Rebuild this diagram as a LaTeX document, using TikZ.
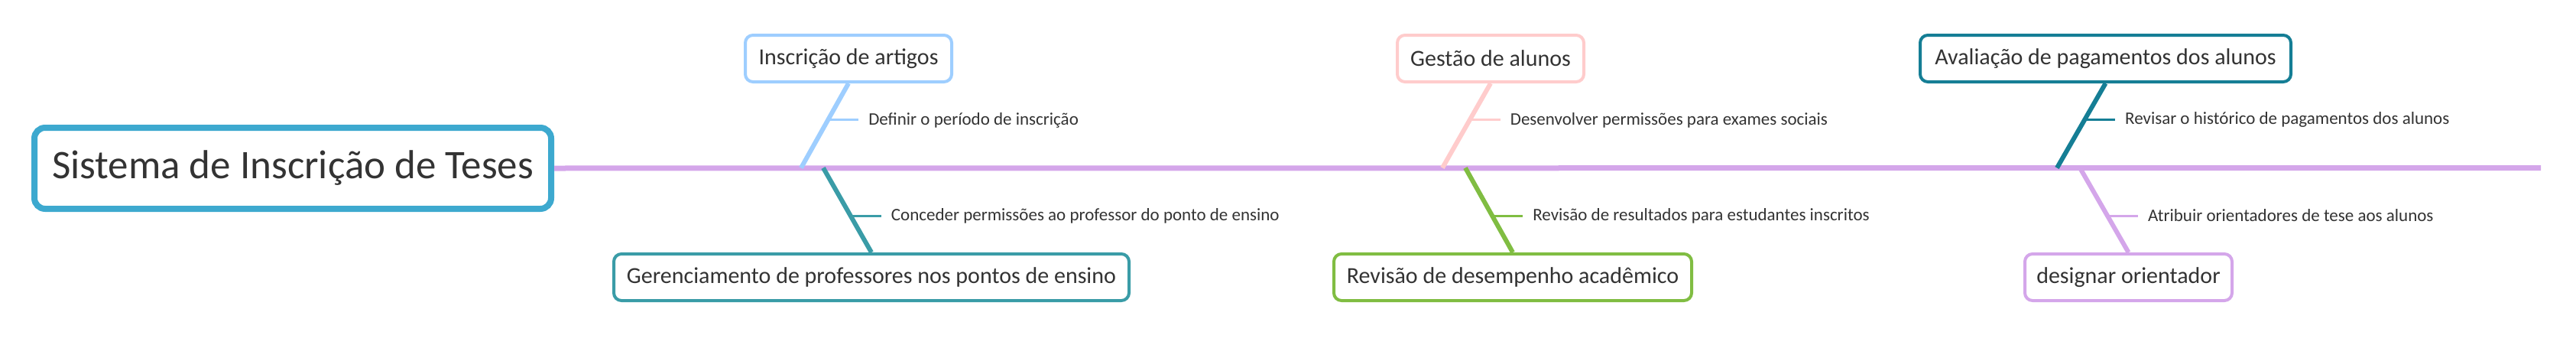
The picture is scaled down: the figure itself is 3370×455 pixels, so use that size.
\documentclass[tikz,border=0pt]{standalone}
\usepackage{fontspec}
\setmainfont{Carlito}
\usepackage{tikz}
\usepackage{xcolor}
\definecolor{rootblue}{HTML}{3DA9CF}
\definecolor{spinelilac}{HTML}{D4A6EA}
\definecolor{skyblue}{HTML}{9ECEFF}
\definecolor{tealblue}{HTML}{3A9CA7}
\definecolor{rosepink}{HTML}{FFCCCC}
\definecolor{leafgreen}{HTML}{80BD42}
\definecolor{petrol}{HTML}{157E95}
\definecolor{textgray}{HTML}{333333}
\tikzset{
    root-box/.style = {draw=rootblue, fill=white, line width=8pt, rectangle, rounded corners=14pt, minimum width=676pt, minimum height=106pt, text=textgray, font=\fontsize{53}{58}\selectfont},
    topic-box/.style = {draw=#1, fill=white, line width=4pt, rectangle, rounded corners=10pt, minimum height=61pt, inner xsep=6pt, text=textgray, font=\fontsize{30}{34}\selectfont},
    spine-line/.style = {draw=spinelilac, line width=7pt},
    branch-line/.style = {draw=#1, line width=6pt},
    leaf-line/.style = {draw=#1, line width=3pt},
    leaf-text/.style = {text=textgray, inner xsep=13pt, anchor=west, font=\fontsize{23}{26}\selectfont},
}

\begin{document}
\begin{tikzpicture}[x=1pt, y=-1pt]
\useasboundingbox (0,0) rectangle (3370,455);

% main topic and spine
\node[root-box] (root) at (383,220) {Sistema de Inscrição de Teses};
\coordinate (spine-end) at (3324,219.5);
\draw[spine-line] (root.east) -- (spine-end);

% points where the topics meet the spine
\coordinate (j-artigos) at (1048,219.5);
\coordinate (j-professores) at (1077,219.5);
\coordinate (j-gestao) at (1887,219.5);
\coordinate (j-desempenho) at (1917,219.5);
\coordinate (j-pagamentos) at (2691,219.5);
\coordinate (j-orientador) at (2721,219.5);

% topics above the spine
\node[topic-box=skyblue, minimum width=270pt] (artigos) at (1110,76.5) {Inscrição de artigos};
\node[topic-box=rosepink, minimum width=244pt] (gestao) at (1950,76.5) {Gestão de alunos};
\node[topic-box=petrol, minimum width=485pt] (pagamentos) at (2754.5,76.5) {Avaliação de pagamentos dos alunos};

% topics below the spine
\node[topic-box=tealblue, minimum width=674pt] (professores) at (1140,362.5) {Gerenciamento de professores nos pontos de ensino};
\node[topic-box=leafgreen, minimum width=468pt] (desempenho) at (1979,362.5) {Revisão de desempenho acadêmico};
\node[topic-box=spinelilac, minimum width=271pt] (orientador) at (2784.5,362.5) {designar orientador};

% branch lines
\draw[branch-line=skyblue] (artigos.south) -- coordinate[pos=0.434] (k-artigos) (j-artigos);
\draw[branch-line=rosepink] (gestao.south) -- coordinate[pos=0.434] (k-gestao) (j-gestao);
\draw[branch-line=petrol] (pagamentos.south) -- coordinate[pos=0.434] (k-pagamentos) (j-pagamentos);
\draw[branch-line=tealblue] (j-professores) -- coordinate[pos=0.566] (k-professores) (professores.north);
\draw[branch-line=leafgreen] (j-desempenho) -- coordinate[pos=0.566] (k-desempenho) (desempenho.north);
\draw[branch-line=spinelilac] (j-orientador) -- coordinate[pos=0.566] (k-orientador) (orientador.north);

% leaves
\node[leaf-text] (l-artigos) at ([xshift=40pt]k-artigos) {Definir o período de inscrição};
\draw[leaf-line=skyblue] (k-artigos) -- (l-artigos.west);
\node[leaf-text] (l-gestao) at ([xshift=40pt]k-gestao) {Desenvolver permissões para exames sociais};
\draw[leaf-line=rosepink] (k-gestao) -- (l-gestao.west);
\node[leaf-text] (l-pagamentos) at ([xshift=40pt]k-pagamentos) {Revisar o histórico de pagamentos dos alunos};
\draw[leaf-line=petrol] (k-pagamentos) -- (l-pagamentos.west);
\node[leaf-text] (l-professores) at ([xshift=40pt]k-professores) {Conceder permissões ao professor do ponto de ensino};
\draw[leaf-line=tealblue] (k-professores) -- (l-professores.west);
\node[leaf-text] (l-desempenho) at ([xshift=40pt]k-desempenho) {Revisão de resultados para estudantes inscritos};
\draw[leaf-line=leafgreen] (k-desempenho) -- (l-desempenho.west);
\node[leaf-text] (l-orientador) at ([xshift=40pt]k-orientador) {Atribuir orientadores de tese aos alunos};
\draw[leaf-line=spinelilac] (k-orientador) -- (l-orientador.west);
\end{tikzpicture}
\end{document}
